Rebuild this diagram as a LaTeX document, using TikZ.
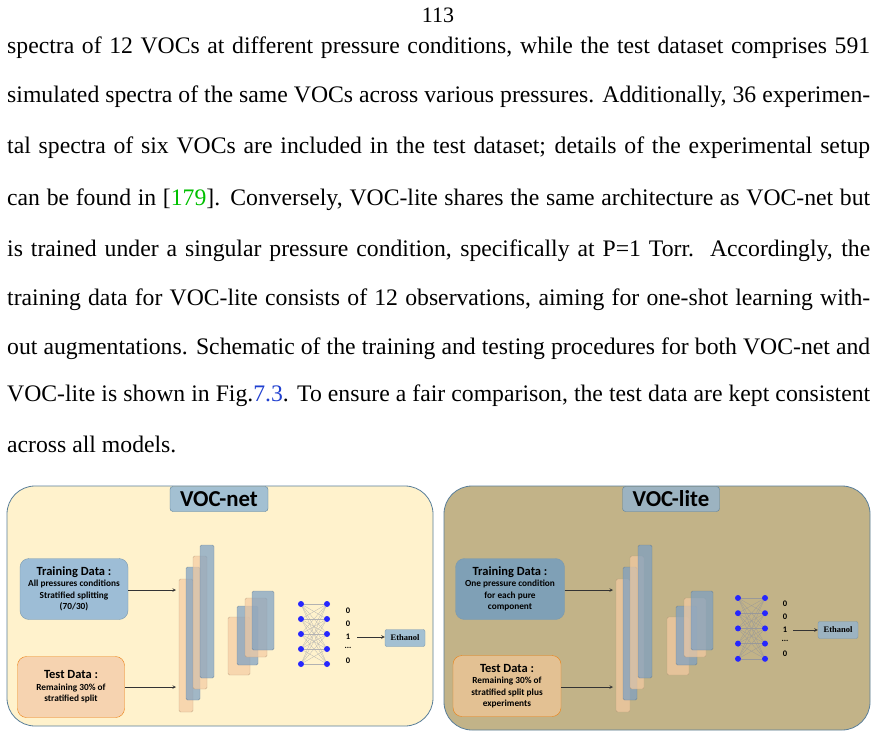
\documentclass[tikz,border=0pt]{standalone}
\usepackage{fontspec}
\setmainfont{Liberation Serif}
\newfontfamily\carl{Carlito}
\newcommand{\fline}[1]{\makebox[863pt][s]{#1}}
\newcommand{\dttl}{\fontsize{12.5}{14}\selectfont}
\definecolor{ttlc}{HTML}{A3C0D2}
\definecolor{pbord}{HTML}{5A7F9A}
\definecolor{lorange}{HTML}{F4CBA2}
\definecolor{lblue}{HTML}{7A9FC4}
\definecolor{linkg}{HTML}{00C000}
\definecolor{linkb}{HTML}{2040D0}
\definecolor{lyell}{HTML}{FFF2CC}
\definecolor{trb}{HTML}{9DBDD6}
\definecolor{rtan}{HTML}{C2B388}
\definecolor{trb2}{HTML}{7FA0B6}
\definecolor{teb2}{HTML}{E3C193}
\begin{document}
\begin{tikzpicture}[x=1pt,y=-1pt,
  body/.style={anchor=west,inner sep=0pt,font=\fontsize{23.7}{26}\selectfont},
  panel/.style={rounded corners=28pt,draw=pbord,line width=0.8pt},
  ttl/.style={rounded corners=3pt,draw=pbord,fill=ttlc,font=\carl\bfseries\fontsize{22.8}{24}\selectfont,inner sep=0pt},
  databox/.style={rounded corners=9pt,align=center,font=\carl\bfseries\fontsize{9.3}{11.5}\selectfont,inner sep=0pt},
  lyo/.style={rounded corners=1.5pt,draw=lorange!70!black,fill=lorange,fill opacity=0.7,draw opacity=0.6},
  lyb/.style={rounded corners=1.5pt,draw=lblue!70!black,fill=lblue,fill opacity=0.7,draw opacity=0.6},
  neu/.style={circle,fill=blue!85!white,inner sep=0pt,minimum size=6pt},
  dig/.style={font=\carl\bfseries\fontsize{8.5}{9}\selectfont,inner sep=0pt},
  arr/.style={-stealth,line width=0.6pt,black!80}]
\useasboundingbox (0,0) rectangle (877,754);
\fill[white] (0,0) rectangle (877,754);
\node[font=\fontsize{22}{24}\selectfont,inner sep=0pt] (pg) at (438,15) {113};
\begin{scope}[every node/.append style={body}]
\node (l1) at (7,48) {\fline{spectra of 12 VOCs at different pressure conditions, while the test dataset comprises 591}};
\node (l2) at (7,97) {\fline{simulated spectra of the same VOCs across various pressures. Additionally, 36 experimen-}};
\node (l3) at (7,148) {\fline{tal spectra of six VOCs are included in the test dataset; details of the experimental setup}};
\node (l4) at (7,200) {\fline{can be found in [\textcolor{linkg}{179}]. Conversely, VOC-lite shares the same architecture as VOC-net but}};
\node (l5) at (7,251) {\fline{is trained under a singular pressure condition, specifically at P=1 Torr.\ \ Accordingly, the}};
\node (l6) at (7,300) {\fline{training data for VOC-lite consists of 12 observations, aiming for one-shot learning with-}};
\node (l7) at (7,349) {\fline{out augmentations. Schematic of the training and testing procedures for both VOC-net and}};
\node (l8) at (7,396) {\fline{VOC-lite is shown in Fig.\textcolor{linkb}{7.3}. To ensure a fair comparison, the test data are kept consistent}};
\node (l9) at (7,444) {across all models.};
\end{scope}
% ===== left panel
\draw[panel,fill=lyell] (7,486) rectangle (433,726);
\node[ttl,minimum width=98pt,minimum height=25pt] (t1) at (219,499) {VOC-net};
\node[databox,fill=trb,draw=pbord!80,minimum width=108pt,minimum height=61pt] (tr1) at (74,589)
 {{\dttl Training Data :}\\All pressures conditions\\Stratified splitting\\(70/30)};
\node[databox,fill=lorange!85!white,draw=orange!70!brown,minimum width=107pt,minimum height=61pt] (te1) at (71,687)
 {{\dttl Test Data :}\\Remaining 30\% of\\stratified split};
\coordinate (a1) at (176,590); \coordinate (b1) at (176,687);
\draw[arr] (tr1.east|-a1) -- (a1);
\draw[arr] (te1.east|-b1) -- (b1);
\draw[lyo] (179,579) rectangle (193,712);
\draw[lyb] (186,567) rectangle (200,700);
\draw[lyo] (193,556) rectangle (207,689);
\draw[lyb] (200,545) rectangle (214,678);
\draw[lyo] (228,617) rectangle (250,675);
\draw[lyb] (237,606) rectangle (258,665);
\draw[lyo] (245,598) rectangle (267,657);
\draw[lyb] (252,591) rectangle (274,650);
\foreach \i in {0,...,4} {\node[neu] (p\i) at (301,604+15*\i) {}; \node[neu] (q\i) at (327,604+15*\i) {};}
\foreach \i in {0,...,4} \foreach \j in {0,...,4} \draw[black!30,line width=0.25pt] (p\i) -- (q\j);
\node[dig] (d1) at (348,611) {0};
\node[dig] (d2) at (348,624) {0};
\node[dig] (d3) at (348,637) {1};
\node[dig] (d4) at (348,648) {...};
\node[dig] (d5) at (348,661) {0};
\node[draw=pbord!80,fill=ttlc,rounded corners=2pt,font=\bfseries\fontsize{8.5}{9}\selectfont,minimum width=40pt,minimum height=17pt,inner sep=0pt] (e1) at (405,638) {Ethanol};
\draw[arr] (357,637) -- (e1.west|-d3);
% ===== right panel
\draw[panel,fill=rtan] (444,486) rectangle (870,730);
\node[ttl,fill=ttlc!80!gray,minimum width=97pt,minimum height=25pt] (t2) at (671,499) {VOC-lite};
\node[databox,fill=trb2,draw=pbord!80,minimum width=109pt,minimum height=61pt] (tr2) at (510,589)
 {{\dttl Training Data :}\\One pressure condition\\for each pure\\component};
\node[databox,fill=teb2,draw=orange!70!brown,minimum width=108pt,minimum height=61pt] (te2) at (507,686)
 {{\dttl Test Data :}\\Remaining 30\% of\\stratified split plus\\experiments};
\coordinate (a2) at (613,590); \coordinate (b2) at (613,687);
\draw[arr] (tr2.east|-a2) -- (a2);
\draw[arr] (te2.east|-b2) -- (b2);
\draw[lyo] (616,579) rectangle (630,712);
\draw[lyb] (623,567) rectangle (637,700);
\draw[lyo] (630,556) rectangle (644,689);
\draw[lyb] (638,545) rectangle (652,678);
\draw[lyo] (667,617) rectangle (689,675);
\draw[lyb] (676,606) rectangle (697,665);
\draw[lyo] (684,598) rectangle (706,657);
\draw[lyb] (691,591) rectangle (713,650);
\foreach \i in {0,...,4} {\node[neu] (r\i) at (738,598+15.2*\i) {}; \node[neu] (s\i) at (765,598+15.2*\i) {};}
\foreach \i in {0,...,4} \foreach \j in {0,...,4} \draw[black!40,line width=0.25pt] (r\i) -- (s\j);
\node[dig] (f1) at (785,604) {0};
\node[dig] (f2) at (785,617) {0};
\node[dig] (f3) at (785,630) {1};
\node[dig] (f4) at (785,641) {...};
\node[dig] (f5) at (785,654) {0};
\node[draw=pbord!80,fill=ttlc!80!gray,rounded corners=2pt,font=\bfseries\fontsize{8.5}{9}\selectfont,minimum width=40pt,minimum height=17pt,inner sep=0pt] (e2) at (838,630) {Ethanol};
\draw[arr] (793,630) -- (e2.west|-f3);
\end{tikzpicture}
\end{document}
